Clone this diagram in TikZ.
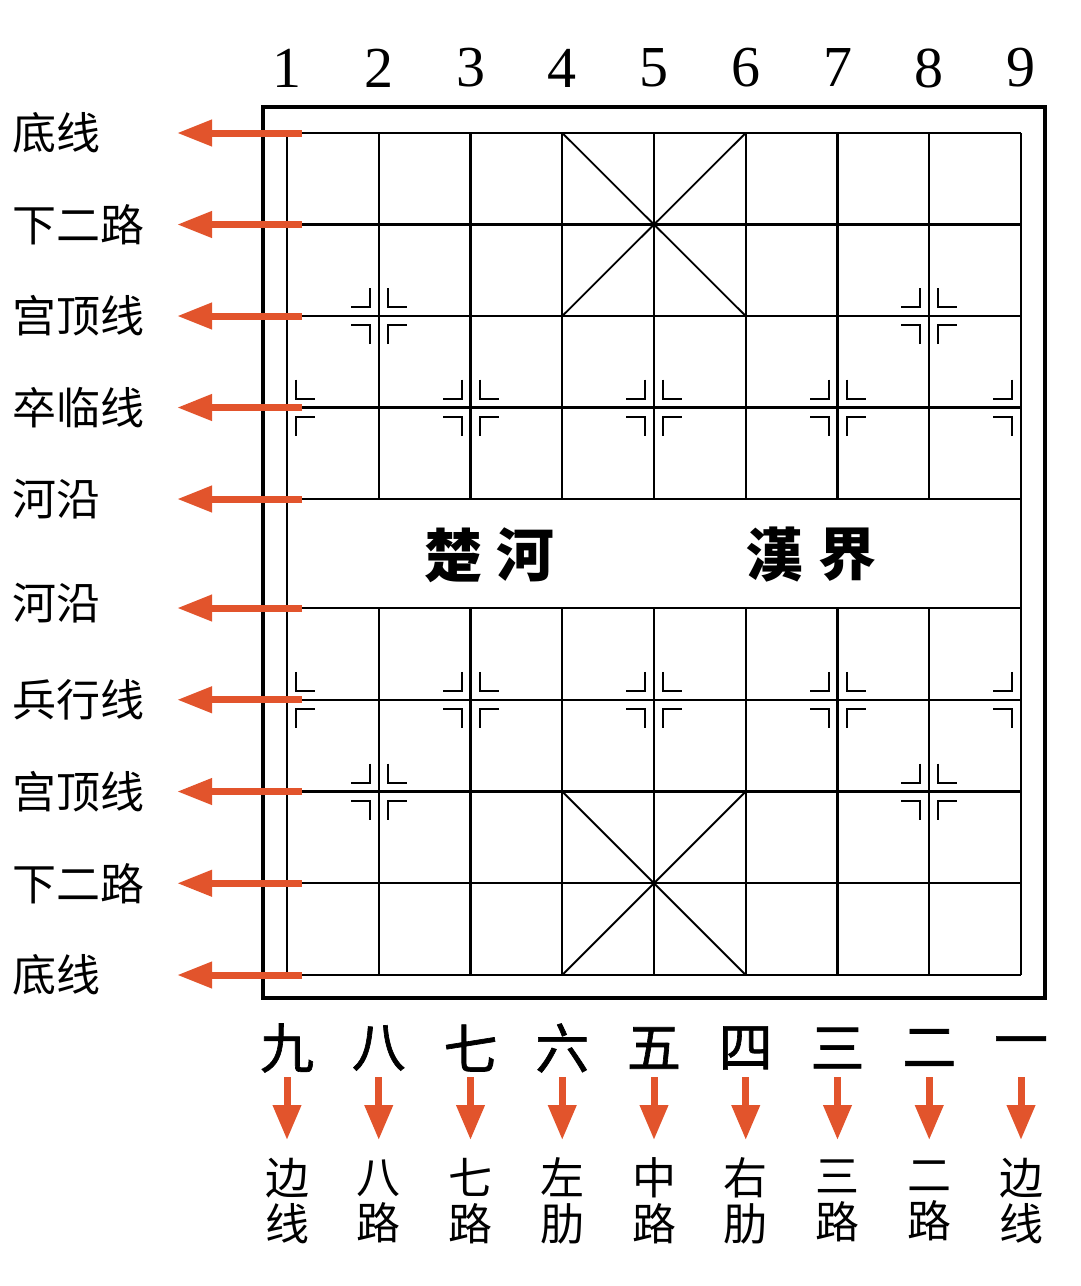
\documentclass[tikz,border=0pt]{standalone}
\usepackage{fontspec}
\setmainfont{Liberation Serif}
\newfontfamily\cjk{Noto Sans CJK SC}
\newfontfamily\cjkfb[FakeBold=1.2]{Noto Sans CJK SC}
\newfontfamily\cjktc{Noto Sans CJK TC}
\usetikzlibrary{arrows.meta}
\definecolor{arrcol}{RGB}{226,84,44}
\tikzset{
  gridln/.style={line width=2.1pt, black},
  frameln/.style={line width=3.6pt, black},
  leftarr/.style={line width=7pt, arrcol, -{Triangle[length=35pt,width=25pt]}},
  downarr/.style={line width=7pt, arrcol, -{Triangle[length=35pt,width=27pt]}},
  leftlab/.style={font=\cjk\fontsize{44}{46}\selectfont, inner sep=0pt, anchor=west},
  toplab/.style={font=\fontsize{58}{60}\selectfont, inner sep=0pt},
  numlab/.style={font=\cjkfb\fontsize{54}{56}\selectfont, inner sep=0pt},
  botlab/.style={font=\cjk\fontsize{44}{46}\selectfont, inner sep=0pt, align=center},
  rivlab/.style={font=\cjktc\bfseries\fontsize{58}{60}\selectfont, inner sep=0pt}
}
\newcommand\cornermk[2]{%
  \foreach \s in {#2}{\foreach \t in {-1,1}{%
    \draw[gridln, line width=2pt, shift={(#1)}] (\s*9,\t*28) -- (\s*9,\t*9) -- (\s*28,\t*9);}}}
\begin{document}
\begin{tikzpicture}[x=1pt,y=-1pt]
\useasboundingbox (0,0) rectangle (1080,1286);
\fill[white] (0,0) rectangle (1080,1286);
% grid points
\foreach \j/\y in {1/133,2/224.5,3/316,4/407.5,5/499,6/608,7/699.75,8/791.5,9/883.25,10/975}{
  \foreach \i in {1,...,9}{
    \pgfmathsetmacro\xx{287+(\i-1)*91.75}
    \coordinate (p-\i-\j) at (\xx,\y);
  }
  \coordinate (s\j) at (302,\y);
  \coordinate (t\j) at (177,\y);
}
% frame
\draw[frameln] (263,107) rectangle (1045,998);
% grid
\foreach \j in {1,...,10}{\draw[gridln] (p-1-\j) -- (p-9-\j);}
\draw[gridln] (p-1-1) -- (p-1-10) (p-9-1) -- (p-9-10);
\foreach \i in {2,...,8}{\draw[gridln] (p-\i-1) -- (p-\i-5) (p-\i-6) -- (p-\i-10);}
% palaces
\draw[gridln, line width=1.8pt] (p-4-1) -- (p-6-3) (p-6-1) -- (p-4-3);
\draw[gridln, line width=1.8pt] (p-4-8) -- (p-6-10) (p-6-8) -- (p-4-10);
% corner marks
\cornermk{p-2-3}{-1,1}
\cornermk{p-8-3}{-1,1}
\cornermk{p-2-8}{-1,1}
\cornermk{p-8-8}{-1,1}
\foreach \j in {4,7}{
  \cornermk{p-1-\j}{1}
  \cornermk{p-3-\j}{-1,1}
  \cornermk{p-5-\j}{-1,1}
  \cornermk{p-7-\j}{-1,1}
  \cornermk{p-9-\j}{-1}
}
% river text
\node[rivlab] (chu) at (453,555) {楚};
\node[rivlab] (he) at (525,555) {河};
\node[rivlab] (han) at (774,555) {漢};
\node[rivlab] (jie) at (847,555) {界};
% left labels and arrows
\foreach \j/\y/\txt in {1/133/底线,2/224.5/下二路,3/316/宫顶线,4/407.5/卒临线,5/499/河沿,6/603/河沿,7/699.75/兵行线,8/791.5/宫顶线,9/883.25/下二路,10/975/底线}{
  \node[leftlab] (l\j) at (12,\y) {\txt};
  \draw[leftarr] (s\j) -- (t\j);
}
% top numbers
\foreach \i in {1,...,9}{
  \pgfmathsetmacro\xx{287+(\i-1)*91.75}
  \node[toplab] (top\i) at (\xx,68) {\i};
}
% bottom numerals, arrows, labels
\foreach \i/\num/\la/\lb in {1/九/边/线,2/八/八/路,3/七/七/路,4/六/左/肋,5/五/中/路,6/四/右/肋,7/三/三/路,8/二/二/路,9/一/边/线}{
  \pgfmathsetmacro\xx{287+(\i-1)*91.75}
  \node[numlab] (n\i) at (\xx,1048) {\num};
  \coordinate (da\i) at (\xx,1077);
  \coordinate (db\i) at (\xx,1140);
  \draw[downarr] (da\i) -- (db\i);
  \node[botlab] (b\i) at (\xx,1201) {\la\\\lb};
}
\end{tikzpicture}
\end{document}
